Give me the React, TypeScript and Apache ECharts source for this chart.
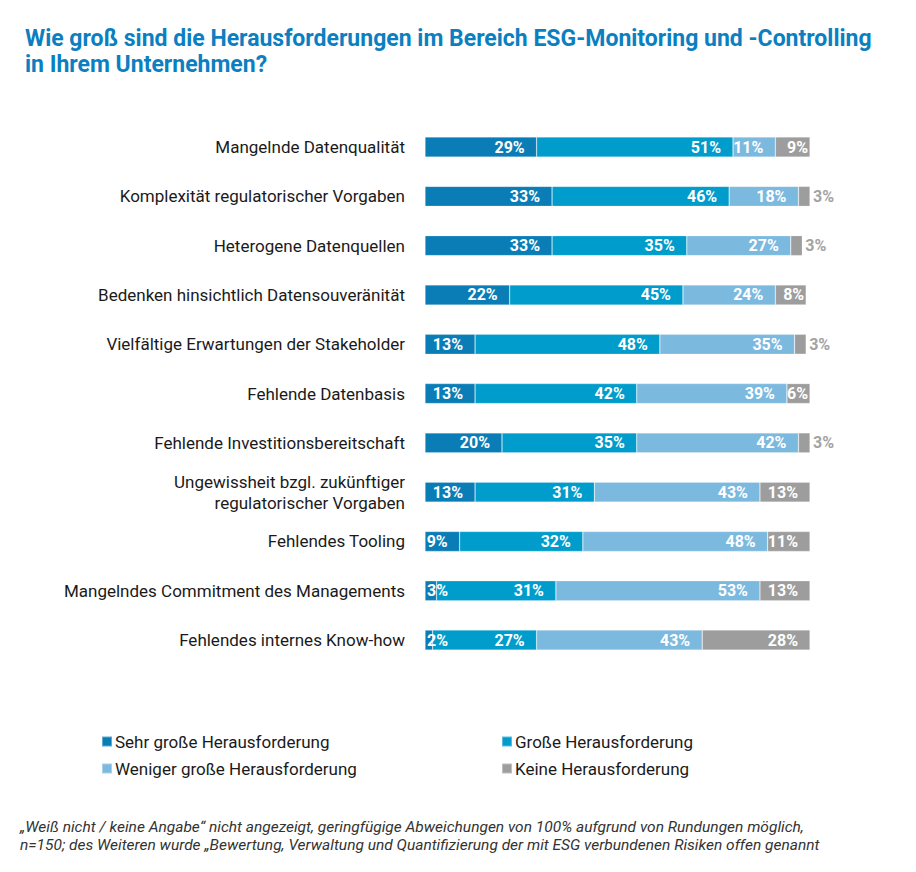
import React, { useEffect, useRef } from "react";
import * as echarts from "echarts";

const categories = [
  "Mangelnde Datenqualität",
  "Komplexität regulatorischer Vorgaben",
  "Heterogene Datenquellen",
  "Bedenken hinsichtlich Datensouveränität",
  "Vielfältige Erwartungen der Stakeholder",
  "Fehlende Datenbasis",
  "Fehlende Investitionsbereitschaft",
  "Ungewissheit bzgl. zukünftiger\nregulatorischer Vorgaben",
  "Fehlendes Tooling",
  "Mangelndes Commitment des Managements",
  "Fehlendes internes Know-how",
];

const seriesNames = [
  "Sehr große Herausforderung",
  "Große Herausforderung",
  "Weniger große Herausforderung",
  "Keine Herausforderung",
];

const sehrGross = [29, 33, 33, 22, 13, 13, 20, 13, 9, 3, 2];
const gross = [51, 46, 35, 45, 48, 42, 35, 31, 32, 31, 27];
const wenigerGross = [11, 18, 27, 24, 35, 39, 42, 43, 48, 53, 43];
const keine = [9, 3, 3, 8, 3, 6, 3, 13, 11, 13, 28];

const colors = ["#0b7db6", "#009ccc", "#7cb9df", "#9d9d9d"];

const titleText =
  "Wie groß sind die Herausforderungen im Bereich ESG-Monitoring und -Controlling\nin Ihrem Unternehmen?";
const footnote =
  "„Weiß nicht / keine Angabe“ nicht angezeigt, geringfügige Abweichungen von 100% aufgrund von Rundungen möglich,\nn=150; des Weiteren wurde „Bewertung, Verwaltung und Quantifizierung der mit ESG verbundenen Risiken offen genannt";

export default function App() {
  const ref = useRef<HTMLDivElement>(null);
  useEffect(() => {
    if (!ref.current) return;
    const chart = echarts.init(ref.current, undefined, { renderer: "svg" });
    const all = [sehrGross, gross, wenigerGross, keine];
    const series = all.map((vals, si) => ({
      name: seriesNames[si],
      type: "bar",
      stack: "total",
      barWidth: 20,
      itemStyle: { color: colors[si], borderColor: "rgba(255,255,255,0.35)", borderWidth: 0.6 },
      label: {
        show: true,
        position: "insideRight",
        distance: 12,
        formatter: "{c}%",
        color: "#ffffff",
        fontFamily: "Roboto",
        fontWeight: "bold",
        fontSize: 16,
      },
      data: vals.map((v) => {
        if (si === 3 && v <= 3) {
          return {
            value: v,
            label: { position: "right", distance: 3, color: "#a3a3a3" },
          };
        }
        if (si === 0 && v <= 3) {
          return { value: v, label: { position: "insideLeft", distance: 2 } };
        }
        if (si === 3 && v < 10) {
          return { value: v, label: { distance: 2 } };
        }
        return v;
      }),
    }));
    const legendPos = [
      { left: 101, top: 733 },
      { left: 501, top: 733 },
      { left: 101, top: 760 },
      { left: 501, top: 760 },
    ];
    chart.setOption({
      animation: false,
      title: {
        text: titleText,
        left: 20,
        top: 20,
        textStyle: {
          color: "#0b7fbf",
          fontFamily: "Roboto",
          fontWeight: "bold",
          fontSize: 23,
          lineHeight: 26,
        },
      },
      legend: seriesNames.map((n, i) => ({
        data: [n],
        left: legendPos[i].left,
        top: legendPos[i].top,
        padding: 0,
        icon: "rect",
        itemWidth: 10,
        itemHeight: 10,
        itemGap: 3,
        selectedMode: false,
        textStyle: { color: "#1a1a1a", fontFamily: "Roboto", fontSize: 17, padding: [0, 0, 0, -2] },
      })),
      graphic: [
        {
          type: "text",
          left: 20,
          top: 818,
          style: {
            text: footnote,
            fill: "#333333",
            font: "italic 15.5px Roboto",
            lineHeight: 18,
          },
        },
      ],
      grid: { left: 425, right: 106, top: 122.4, height: 542.3 },
      xAxis: {
        type: "value",
        min: 0,
        max: 100,
        show: false,
      },
      yAxis: {
        type: "category",
        data: categories,
        inverse: true,
        axisLine: { show: false },
        axisTick: { show: false },
        axisLabel: {
          margin: 20,
          color: "#1a1a1a",
          fontFamily: "Roboto",
          fontSize: 17,
          lineHeight: 21,
          align: "right",
        },
      },
      series,
    });
    return () => chart.dispose();
  }, []);
  return <div ref={ref} style={{ width: 916, height: 872, margin: -8 }} />;
}
